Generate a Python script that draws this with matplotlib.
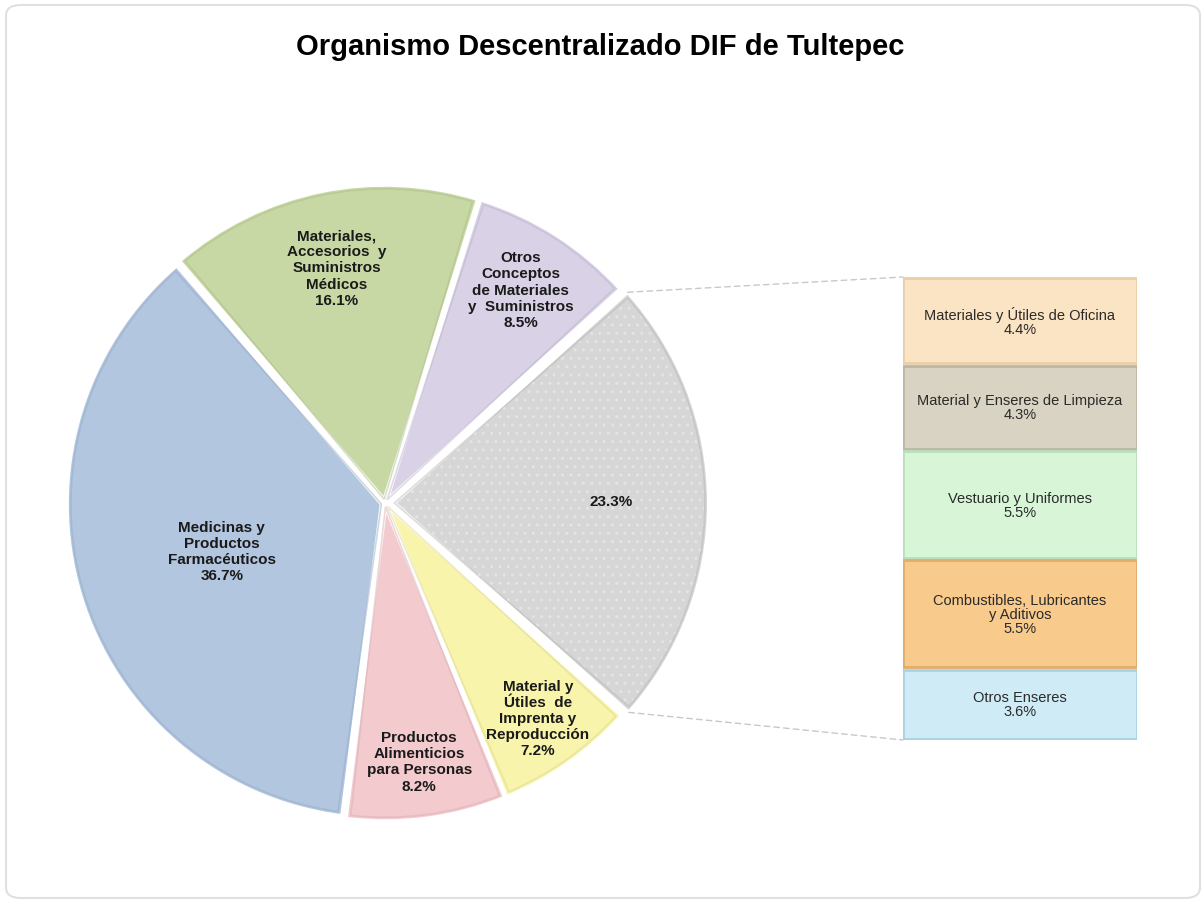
import numpy as np
import matplotlib
matplotlib.use("Agg")
import matplotlib.pyplot as plt
from matplotlib.patches import ConnectionPatch, FancyBboxPatch, Wedge

plt.rcParams['font.family'] = ['Liberation Sans', 'DejaVu Sans']

# pie data (clockwise from the top)
pie_labels = ["Otros\nConceptos\nde Materiales\ny  Suministros",
              "",
              "Material y\nÚtiles  de\nImprenta y\nReproducción",
              "Productos\nAlimenticios\npara Personas",
              "Medicinas y\nProductos\nFarmacéuticos",
              "Materiales,\nAccesorios  y\nSuministros\nMédicos"]
pie_values = [8.5, 23.3, 7.2, 8.2, 36.7, 16.1]
pie_colors = ["#d9d1e6", "#d6d6d6", "#f8f4ab", "#f3cbcf", "#b2c6df", "#c8d8a4"]
pie_shades = ["#b9b0c8", "#b4b4b4", "#d8d48c", "#d4aab0", "#93a8c2", "#a8ba84"]

# bar of pie (the 23.3% slice broken down)
bar_labels = ["Materiales y Útiles de Oficina",
              "Material y Enseres de Limpieza",
              "Vestuario y Uniformes",
              "Combustibles, Lubricantes\ny Aditivos",
              "Otros Enseres"]
bar_values = [4.4, 4.3, 5.5, 5.5, 3.6]
bar_colors = ["#fbe4c4", "#d9d3c3", "#d8f5d8", "#f8ca8c", "#cfecf6"]
bar_edges = ["#e8cfa8", "#bdb6a4", "#b9dfb9", "#e0ad6a", "#a9d3e2"]

fig = plt.figure(figsize=(12.03, 9.01), dpi=100)

# rounded frame
frame = FancyBboxPatch((6 / 1203, 3 / 901), 1194 / 1203, 893 / 901,
                       boxstyle="round,pad=0,rounding_size=0.012",
                       transform=fig.transFigure, fc="none", ec="#e0e0e0", lw=1.5,
                       zorder=-5)
fig.patches.append(frame)

fig.text(600 / 1203, 1 - 47 / 901, "Organismo Descentralizado DIF de Tultepec",
         ha="center", va="center", fontsize=21, fontweight="bold")

# pie axes, centre at (385, 503) px
ax = fig.add_axes([(385 - 330) / 1203, (398 - 330) / 901, 660 / 1203, 660 / 901])
ax.axis("off")

explode = [0.012, 0.03, 0.012, 0.012, 0.012, 0.012]
start = 72.7
wedges, _ = ax.pie(pie_values, colors=pie_colors, startangle=start, counterclock=False,
                   explode=explode, radius=1.0,
                   wedgeprops=dict(edgecolor="white", linewidth=2.5))
ax.set_xlim(-1.05, 1.05)
ax.set_ylim(-1.05, 1.05)
ax.set_aspect("equal")

# subtle bevel outline inside each slice
for w, s in zip(wedges, pie_shades):
    ax.add_patch(Wedge(w.center, w.r - 0.012, w.theta1 + 0.8, w.theta2 - 0.8,
                       fill=False, edgecolor=s, linewidth=1.2, alpha=0.45))

# dotted texture on the grey slice
g = wedges[1]
ax.add_patch(Wedge(g.center, g.r - 0.015, g.theta1 + 1, g.theta2 - 1, fill=False,
                   hatch="..", edgecolor="#e4e4e4", linewidth=0))

label_r = [0.79, 0.69, 0.83, 0.82, 0.53, 0.75]
total = sum(pie_values)
for w, lab, v, r in zip(wedges, pie_labels, pie_values, label_r):
    mid = np.deg2rad((w.theta1 + w.theta2) / 2)
    cx, cy = w.center
    txt = (lab + "\n" if lab else "") + f"{v / total * 100:.1f}%"
    ax.text(cx + r * np.cos(mid), cy + r * np.sin(mid), txt, ha="center", va="center",
            fontsize=11, fontweight="bold", color="#1a1a1a", linespacing=1.2)

# bar axes
bx = fig.add_axes([903 / 1203, 1 - 740 / 901, 234 / 1203, 463 / 901])
bar_total = sum(bar_values)
bx.set_xlim(0, 1)
bx.set_ylim(bar_total, 0)
bx.axis("off")
bottoms = np.concatenate([[0], np.cumsum(bar_values)[:-1]])
gap = 0.12
for lab, v, b, c, e in zip(bar_labels, bar_values, bottoms, bar_colors, bar_edges):
    bx.bar(0.5, v - gap, bottom=b + gap / 2, width=1.0, color=c, edgecolor=e, linewidth=2)
    bx.text(0.5, b + v / 2 + 0.05, f"{lab}\n{v}%",
            ha="center", va="center", fontsize=10.5, color="#2a2a2a", linespacing=1.0)

# connector lines from the grey slice to the bar
cx, cy = g.center
for ang, ybar in [(g.theta2, 0), (g.theta1, bar_total)]:
    a = np.deg2rad(ang)
    con = ConnectionPatch(xyA=(cx + np.cos(a), cy + np.sin(a)), coordsA=ax.transData,
                          xyB=(0, ybar), coordsB=bx.transData,
                          color="#c8c8c8", linestyle=(0, (4, 3)), linewidth=1)
    fig.add_artist(con)

fig.savefig("out.png", dpi=100)
